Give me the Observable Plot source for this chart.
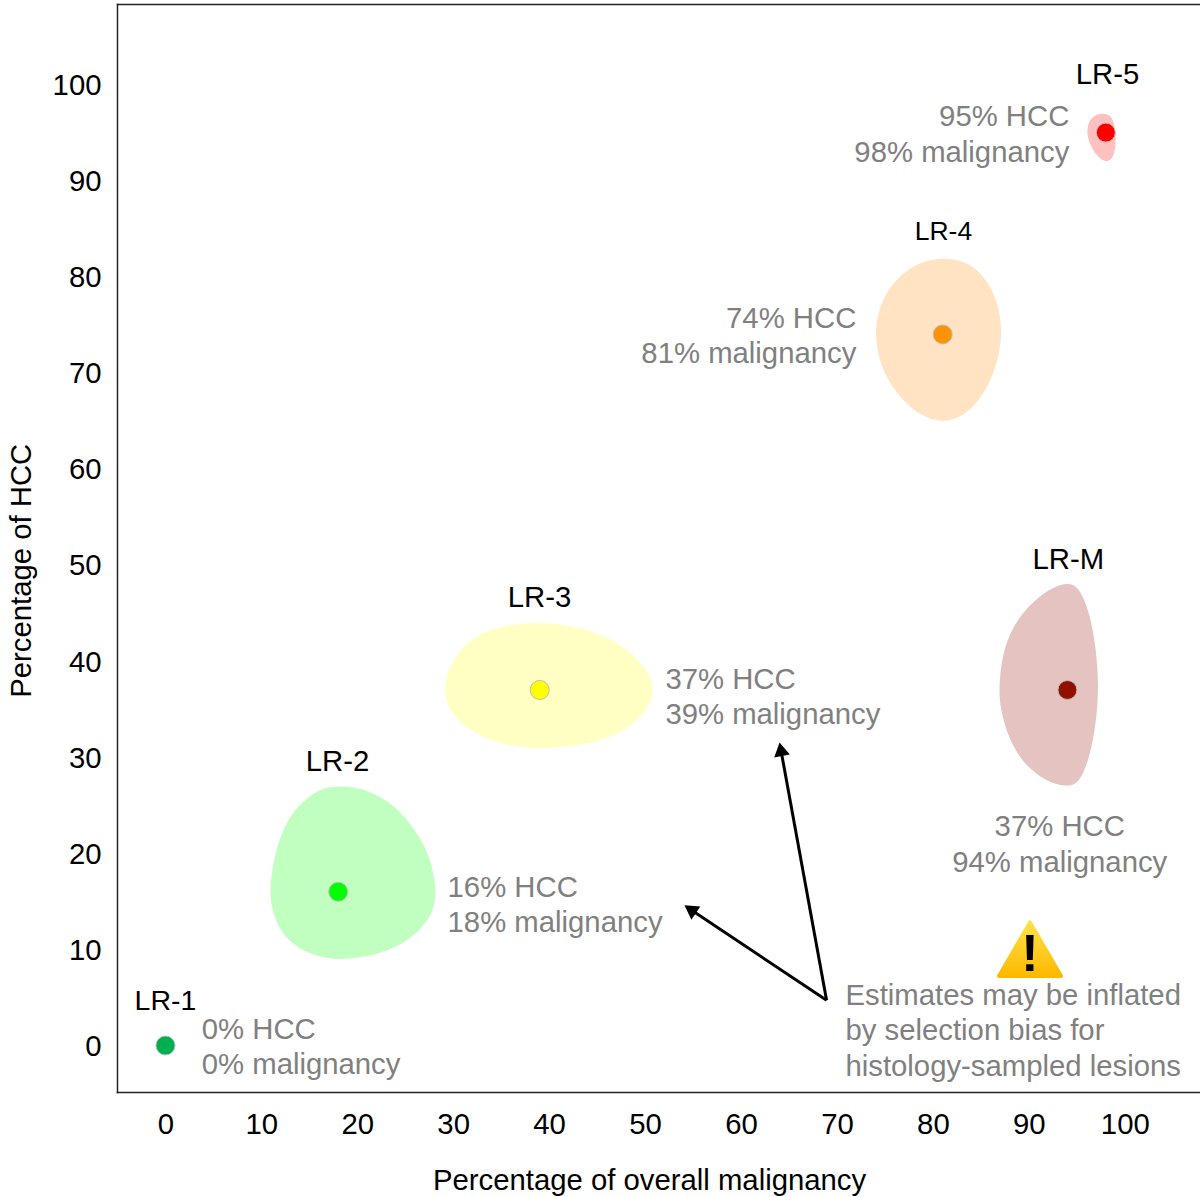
<!DOCTYPE html>
<html>
<head>
<meta charset="utf-8">
<style>html,body{margin:0;padding:0;background:#fff}svg{display:block}</style>
<script src="https://cdn.jsdelivr.net/npm/d3@7"></script>
<script src="https://cdn.jsdelivr.net/npm/@observablehq/plot@0.6"></script>
</head>
<body>
<script>
const ticks = [0,10,20,30,40,50,60,70,80,90,100];

const categories = ["LR-1","LR-2","LR-3","LR-4","LR-5","LR-M"];
const hcc        = [0,16,37,74,95,37];
const malignancy = [0,18,39,81,98,94];
const dotColors  = ["#00b050","#00ff00","#ffff00","#ff9200","#ff0000","#931000"];

const blobLR2 = [[18.06,27.05],[21.1,26.7],[23.95,24.98],[26.05,22.5],[27.62,19.65],[28.2,16.45],[28.1,14.3],[26.72,12],[23.9,10.05],[20.35,9.07],[17.2,8.9],[14.3,9.72],[12.18,11.5],[11.12,13.8],[10.86,16.15],[11.18,19],[12.15,22.55],[13.95,25.2],[16.1,26.75]];
const blobLR3 = [[28.9,37.05],[29.85,40.2],[31.95,42.55],[35.15,43.72],[39.1,44.12],[43,43.62],[47.25,42.05],[50.05,39.5],[51.1,37.05],[50.05,34.45],[47.25,32.25],[43.35,31.23],[39.1,30.83],[34.8,31.28],[31.3,32.95],[29.5,34.95]];
const blobLR4 = [[81.05,82.1],[84,81.45],[85.98,79.2],[86.95,76.55],[87.2,73.87],[86.7,70.85],[85.28,67.65],[83.3,65.53],[81.05,64.73],[78.6,65.53],[76.08,67.85],[74.5,70.7],[73.9,73.87],[74.3,76.75],[75.72,79.42],[78.25,81.45]];
const blobLR5 = [[97.79,97.05],[98.62,96.72],[98.98,95.6],[99.08,93.8],[98.8,92.45],[98.15,91.82],[97.15,92.45],[96.44,93.55],[95.98,94.87],[96.2,96.2],[96.85,96.85]];
const blobLRM = [[94.2,48.2],[95.25,47.6],[96.25,45.25],[96.95,41.75],[97.3,37.16],[96.95,33.25],[96.25,29.72],[95.25,27.4],[94.2,26.88],[91.85,27.4],[89.5,29.2],[87.9,31.85],[87,35.03],[86.86,37.16],[87.17,40.7],[88.42,43.9],[90.35,46.2],[92.55,47.78]];
const blobColors = ["#c1ffc1","#ffffc3","#ffe3c2","#ffc0c0","#e4c3c0"];
const blobs = [blobLR2,blobLR3,blobLR4,blobLR5,blobLRM];

const nameX = [0,17.93,38.98,81.08,98.18,94.1];
const nameY = [4.6,29.5,46.6,84.7,101,50.6];
const nameSize = [28.5,29.3,29.3,26.5,29.3,29.3];

const noteText = categories.map((c,i)=>`${hcc[i]}% HCC\n${malignancy[i]}% malignancy`);
const noteX = [3.78,29.4,52.1,72,94.2,93.2];
const noteY = [0,14.8,36.45,74.05,95,21.1];
const noteAnchor = ["start","start","start","end","end","middle"];

const caveat = "Estimates may be inflated\nby selection bias for\nhistology-sampled lesions";
const arrowTail = [68.9,4.7];
const arrowTips = [[54.88,14.05,-56],[64.17,30.6,-10.3]];

const gray = "#808080";
const font = "Liberation Sans, Arial, sans-serif";
const fs = 29.3;

const idx = d3.range(categories.length);

const defs = () => {
  const ns = "http://www.w3.org/2000/svg";
  const d = document.createElementNS(ns,"defs");
  d.innerHTML = `<linearGradient id="warnGrad" x1="0" y1="0" x2="0" y2="1">
    <stop offset="0" stop-color="#ffe14a"/><stop offset="1" stop-color="#fdb900"/></linearGradient>`;
  return d;
};

const chart = Plot.plot({
  width: 1200, height: 1197,
  marginLeft: 117, marginRight: 0, marginTop: 4, marginBottom: 105,
  style: {fontFamily: font, fontSize: fs+"px", background: "#fff", color: "#000"},
  x: {domain: [-5, 107.87], label: null},
  y: {domain: [-4.89, 108.33], label: null},
  marks: [
    defs,
    ...blobs.map((b,i)=>Plot.line(b,{curve:"basis-closed",fill:blobColors[i],stroke:"none"})),
    Plot.dot(idx,{x:i=>malignancy[i],y:i=>hcc[i],r:9.5,fill:i=>dotColors[i],stroke:"#bdbdbd",strokeWidth:1}),
    ...idx.map(i=>Plot.text([categories[i]],{x:nameX[i],y:nameY[i],text:d=>d,fontSize:nameSize[i],fill:"#000"})),
    ...idx.map(i=>Plot.text([noteText[i]],{x:noteX[i],y:noteY[i],text:d=>d,textAnchor:noteAnchor[i],lineHeight:1.205,fontSize:fs,fill:gray})),
    Plot.text([caveat],{x:70.87,y:1.7,text:d=>d,textAnchor:"start",lineHeight:1.2,fontSize:fs,fill:gray}),
    Plot.link(arrowTips,{x1:()=>arrowTail[0],y1:()=>arrowTail[1],x2:d=>d[0],y2:d=>d[1],stroke:"#000",strokeWidth:3}),
    Plot.dot(arrowTips,{x:d=>d[0],y:d=>d[1],rotate:d=>d[2],symbol:"triangle",r:5.9,fill:"#000",stroke:"none"}),
    Plot.dot([[90.1,9.09]],{symbol:"triangle",r:23,fill:"url(#warnGrad)",stroke:"url(#warnGrad)",strokeWidth:4,strokeLinejoin:"round"}),
    Plot.text(["!"],{x:90.1,y:9.5,text:d=>d,fontSize:52,fontWeight:"bold",fill:"#000"}),
    Plot.frame({anchor:"left",stroke:"#222",strokeWidth:1.5}),
    Plot.frame({anchor:"top",stroke:"#222",strokeWidth:1.5}),
    Plot.frame({anchor:"bottom",stroke:"#222",strokeWidth:1.5}),
    Plot.axisX(ticks,{anchor:"bottom",tickSize:0,tickPadding:21,fontSize:fs,label:null,dx:0.3}),
    Plot.axisY(ticks,{anchor:"left",tickSize:0,tickPadding:16,fontSize:fs,label:null,dy:1}),
    Plot.text(["Percentage of overall malignancy"],{x:50.45,frameAnchor:"bottom",dy:97,text:d=>d,fontSize:fs,fill:"#000"}),
    Plot.text(["Percentage of HCC"],{y:49.4,frameAnchor:"left",textAnchor:"middle",dx:-96,rotate:-90,text:d=>d,fontSize:fs,fill:"#000"})
  ]
});
document.body.appendChild(chart);
</script>
</body>
</html>
